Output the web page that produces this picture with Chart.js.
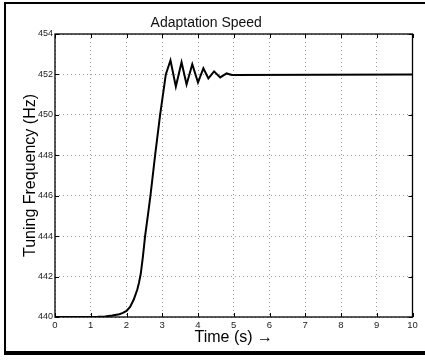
<!DOCTYPE html>
<html>
<head>
<meta charset="utf-8">
<script src="https://cdn.jsdelivr.net/npm/chart.js@4/dist/chart.umd.min.js"></script>
<style>
html,body{margin:0;padding:0;background:#fff;}
#wrap{width:425px;height:361px;position:relative;}
</style>
</head>
<body>
<div id="wrap"><canvas id="c" width="425" height="361"></canvas></div>
<script>
const timeValues = [0, 1.0, 1.2, 1.4, 1.6, 1.8, 1.9, 2.0, 2.1, 2.2, 2.3, 2.35, 2.4, 2.46, 2.52, 2.6, 2.67, 2.8, 2.94, 3.1, 3.23, 3.38, 3.54, 3.68, 3.84, 4.0, 4.15, 4.29, 4.45, 4.62, 4.8, 4.95, 10];
const freqValues = [440, 440, 440.01, 440.03, 440.07, 440.14, 440.2, 440.3, 440.5, 440.85, 441.35, 441.7, 442.15, 443, 444, 445.05, 446, 448, 450, 452, 452.7, 451.4, 452.6, 451.5, 452.5, 451.6, 452.3, 451.8, 452.15, 451.85, 452.05, 451.97, 452];
const xTicks = [0,1,2,3,4,5,6,7,8,9,10];
const yTicks = [440,442,444,446,448,450,452,454];
const titleText = 'Adaptation Speed';
const xTitle = 'Time (s) \u2192';
const yTitle = 'Tuning Frequency (Hz)';

const points = timeValues.map((t, i) => ({x: t, y: freqValues[i]}));
const FONT = '"Liberation Sans", Arial, Helvetica, sans-serif';

const framePlugin = {
  id: 'frame',
  beforeDraw(chart) {
    const ctx = chart.ctx;
    ctx.save();
    ctx.fillStyle = '#fff';
    ctx.fillRect(0, 0, chart.width, chart.height);
    ctx.strokeStyle = '#000';
    ctx.lineWidth = 2;
    ctx.beginPath();
    ctx.moveTo(430, 3); ctx.lineTo(5, 3); ctx.lineTo(5, 353);
    ctx.stroke();
    ctx.lineWidth = 4;
    ctx.beginPath();
    ctx.moveTo(4, 353); ctx.lineTo(430, 353);
    ctx.stroke();
    ctx.restore();
  },
  afterDraw(chart) {
    const ctx = chart.ctx;
    const a = chart.chartArea;
    const xs = chart.scales.x, ys = chart.scales.y;
    ctx.save();
    ctx.strokeStyle = '#000';
    ctx.lineWidth = 1.3;
    ctx.strokeRect(a.left, a.top, a.right - a.left, a.bottom - a.top);
    ctx.lineWidth = 1;
    ctx.beginPath();
    xTicks.forEach(v => {
      const px = Math.round(xs.getPixelForValue(v)) + 0.5;
      ctx.moveTo(px, a.bottom); ctx.lineTo(px, a.bottom - 4);
      ctx.moveTo(px, a.top); ctx.lineTo(px, a.top + 4);
    });
    yTicks.forEach(v => {
      const py = Math.round(ys.getPixelForValue(v)) + 0.5;
      ctx.moveTo(a.left, py); ctx.lineTo(a.left + 4, py);
      ctx.moveTo(a.right, py); ctx.lineTo(a.right - 4, py);
    });
    ctx.stroke();
    ctx.restore();
  }
};

new Chart(document.getElementById('c'), {
  type: 'line',
  data: {
    datasets: [{
      data: points,
      borderColor: '#000',
      borderWidth: 2,
      pointRadius: 0,
      tension: 0,
      fill: false
    }]
  },
  options: {
    responsive: false,
    animation: false,
    events: [],
    layout: {padding: {left: 0, right: 12.5, top: 0, bottom: 0}},
    plugins: {
      legend: {display: false},
      tooltip: {enabled: false},
      title: {
        display: true,
        text: titleText,
        color: '#111',
        font: {family: FONT, size: 14, weight: 'normal', lineHeight: 1.2},
        padding: {top: 15, bottom: 2.2}
      }
    },
    scales: {
      x: {
        type: 'linear',
        min: 0, max: 10,
        afterBuildTicks(s) { s.ticks = xTicks.map(v => ({value: v})); },
        afterFit(s) { s.height = 44; },
        grid: {color: '#9a9a9a', lineWidth: 1, drawTicks: false},
        border: {display: false, dash: [1, 3]},
        ticks: {color: '#222', font: {family: FONT, size: 9.5}, padding: 3, maxRotation: 0, autoSkip: false},
        title: {display: true, text: xTitle, color: '#000', font: {family: FONT, size: 16}, padding: {top: 0, bottom: 13.5}}
      },
      y: {
        type: 'linear',
        min: 440, max: 454,
        afterBuildTicks(s) { s.ticks = yTicks.map(v => ({value: v})); },
        afterFit(s) { s.width = 55; },
        grid: {color: '#9a9a9a', lineWidth: 1, drawTicks: false},
        border: {display: false, dash: [1, 3]},
        ticks: {color: '#222', font: {family: FONT, size: 9}, padding: 2, autoSkip: false},
        title: {display: true, text: yTitle, color: '#000', font: {family: FONT, size: 16}, padding: {top: 20.5, bottom: 0}}
      }
    }
  },
  plugins: [framePlugin]
});
</script>
</body>
</html>
